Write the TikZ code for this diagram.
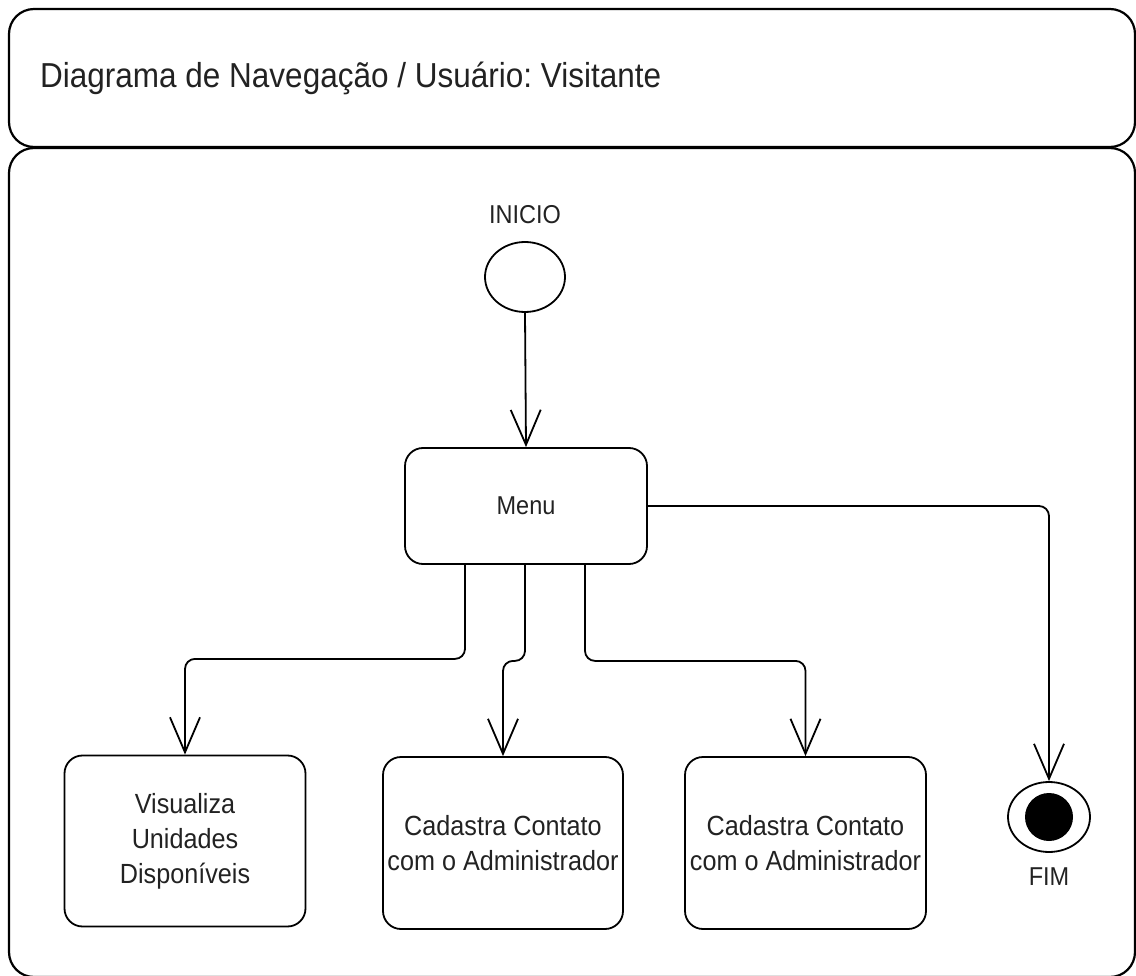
\documentclass[tikz,border=0pt]{standalone}
\usepackage{fontspec}
\usepackage{graphicx}
\setmainfont{Liberation Sans}
\usetikzlibrary{arrows.meta,shapes.geometric}
\definecolor{txt}{HTML}{222222}
\frenchspacing
\newcommand{\tallt}[1]{\scalebox{1}[1.1]{#1}}
\tikzset{
  container/.style={draw, line width=2.2pt, rounded corners=25pt, inner sep=0pt},
  statebox/.style={draw, line width=1.8pt, rounded corners=18pt, inner sep=0pt,
    align=center, text=txt, font=\fontsize{25.2}{35}\selectfont},
  lbl/.style={text=txt, font=\fontsize{23.5}{28}\selectfont, inner sep=0pt},
  arr/.style={draw, line width=1.8pt, -{Straight Barb[length=35pt,width=30pt,line width=1.8pt]}},
}
\begin{document}
\begin{tikzpicture}[x=1pt,y=-1pt]
\useasboundingbox (0,0) rectangle (1136,976);
% containers
\node[container, minimum width=1126pt, minimum height=138pt] (head) at (572,78) {};
\node[container, minimum width=1126pt, minimum height=829pt] (body) at (572,562.5) {};
\node[anchor=west, text=txt, font=\fontsize{31.5}{36}\selectfont, inner sep=0pt] (title) at (40,78) {\tallt{Diagrama de Navegação / Usuário: Visitante}};
% start
\node[lbl] (inicio) at (525,215) {\tallt{INICIO}};
\node[draw, ellipse, line width=1.8pt, minimum width=80pt, minimum height=70pt, inner sep=0pt] (start) at (525,277) {};
% menu
\node[statebox, minimum width=242pt, minimum height=116pt, font=\fontsize{23.5}{28}\selectfont] (menu) at (526,506) {\tallt{Menu}};
% bottom states
\node[statebox, minimum width=241pt, minimum height=171pt] (vis) at (185,841) {\tallt{Visualiza}\\\tallt{Unidades}\\\tallt{Disponíveis}};
\node[statebox, minimum width=240pt, minimum height=172pt] (cad1) at (503,843) {\tallt{Cadastra Contato}\\\tallt{com o Administrador}};
\node[statebox, minimum width=241pt, minimum height=172pt] (cad2) at (805.5,843) {\tallt{Cadastra Contato}\\\tallt{com o Administrador}};
% end
\node[draw, ellipse, line width=1.8pt, minimum width=82pt, minimum height=70pt, inner sep=0pt] (fim) at (1049,817) {};
\fill (fim.center) circle (24pt);
\node[lbl] (fimlbl) at (1049,877) {\tallt{FIM}};
% connectors
\draw[arr] (start.south) -- (menu.north);
\draw[arr, rounded corners=10pt] ([xshift=-61pt]menu.south) -- ++(0,94) -| (vis.north);
\draw[arr, rounded corners=10pt] ([xshift=-1pt]menu.south) -- ++(0,96) -| (cad1.north);
\draw[arr, rounded corners=10pt] ([xshift=59pt]menu.south) -- ++(0,96) -| (cad2.north);
\draw[arr, rounded corners=10pt] (menu.east) -| (fim.north);
\end{tikzpicture}
\end{document}
